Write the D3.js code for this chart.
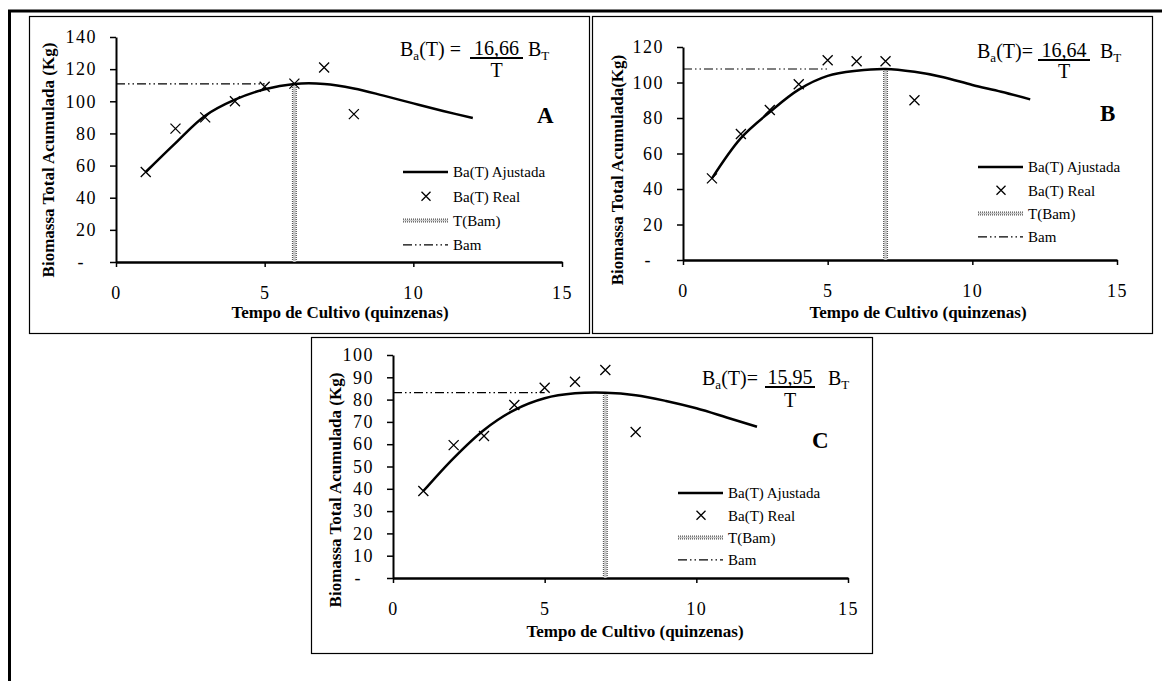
<!DOCTYPE html>
<html>
<head>
<meta charset="utf-8">
<script src="https://cdn.jsdelivr.net/npm/d3@7"></script>
<style>
  body { margin: 0; background: #fff; }
  svg { display: block; }
</style>
</head>
<body>
<div id="chart"></div>
<script>

// Data (A, B, C)

const weeks = [1, 2, 3, 4, 5, 6, 7, 8];
const fitWeeks = [1, 2, 3, 4, 5, 6, 7, 8, 9, 10, 11, 12];

const realA = [56, 83, 90, 100, 109, 111, 121, 92];
const fitA = [56, 74, 91, 101, 107.5, 110.8, 110.8, 108, 103.5, 98.7, 94, 89.6];

const realB = [46, 71, 84.5, 99, 112.5, 112, 112, 90];
const fitB = [46, 68.7, 83.4, 96, 103.7, 106.6, 107.6, 106, 103, 98.6, 94.8, 90.5];

const realC = [39, 59.6, 63.7, 77.6, 85.3, 88, 93.3, 65.5];
const fitC = [39, 53.8, 66.4, 75.3, 80.6, 82.8, 83.1, 82, 79.4, 76.1, 72, 67.8];

const tBam = [6, 7, 7];          // T(Bam) per panel
const bam = [110.8, 107.6, 83.1]; // Bam per panel
const bamRange = [0, 5];          // span of the Bam dash line

const coefs = ["16,66", "16,64", "15,95"];
const panelNames = ["A", "B", "C"];

const xTicks = [0, 5, 10, 15];
const yTicksA = [0, 20, 40, 60, 80, 100, 120, 140];
const yTicksB = [0, 20, 40, 60, 80, 100, 120];
const yTicksC = [0, 10, 20, 30, 40, 50, 60, 70, 80, 90, 100];

const legendLabels = ["Ba(T) Ajustada", "Ba(T) Real", "T(Bam)", "Bam"];
const xTitle = "Tempo de Cultivo (quinzenas)";
const yTitles = ["Biomassa Total Acumulada (Kg)", "Biomassa Total Acumulada(Kg)", "Biomassa Total Acumulada (Kg)"];

const serif = "'Liberation Serif', 'Times New Roman', serif";
const bamDash = "9,3,1.5,3,1.5,3";

const width = 1162, height = 681;

const svg = d3.select("#chart").append("svg")
    .attr("width", width)
    .attr("height", height)
    .style("font-family", serif);

svg.append("rect").attr("width", width).attr("height", height).attr("fill", "#fff");

// Outer frame (only top and left edges show)
svg.append("path")
    .attr("d", "M9.5," + height + "V11H" + width)
    .attr("fill", "none")
    .attr("stroke", "#000")
    .attr("stroke-width", 3);


// Layout of each panel (box, plot area, annotation spots)
const layouts = [
    { box: [29, 16, 589, 333], plot: [116, 562, 262, 37], yTicks: yTicksA, real: realA, fit: fitA,
      xTitle: [340, 318], yTitle: [48, 160], formula: { x: 400, y: 56, num: [470, 523], den: 77, bt: 528 },
      label: [537, 123], legend: { x: 403, y: 172, step: 24.3 } },
    { box: [592, 16, 1152, 333], plot: [683, 1117, 260, 47], yTicks: yTicksB, real: realB, fit: fitB,
      xTitle: [918, 318], yTitle: [617, 170], formula: { x: 977, y: 58, num: [1038, 1090], den: 78, bt: 1100 },
      label: [1100, 121], legend: { x: 978, y: 167, step: 23.3 } },
    { box: [311, 337, 872, 653], plot: [393, 848, 578, 355], yTicks: yTicksC, real: realC, fit: fitC,
      xTitle: [635, 637], yTitle: [335, 490], formula: { x: 702, y: 385, num: [765, 815], den: 407, bt: 828 },
      label: [812, 448], legend: { x: 678, y: 493, step: 22.3 } }
];


// One "x" marker path centred on 0,0
function crossPath(s) {
    return "M" + (-s) + "," + (-s) + "L" + s + "," + s + "M" + (-s) + "," + s + "L" + s + "," + (-s);
}

// Grey hatched vertical rule used for T(Bam)
function hatchLine(g, x1, y1, x2, y2, w) {
    g.append("line")
        .attr("x1", x1).attr("y1", y1).attr("x2", x2).attr("y2", y2)
        .attr("stroke", "#555").attr("stroke-width", w + 1)
        .attr("stroke-dasharray", "1,1");
    g.append("line")
        .attr("x1", x1).attr("y1", y1).attr("x2", x2).attr("y2", y2)
        .attr("stroke", "#c8c8c8").attr("stroke-width", w - 1.5);
}


function drawPanel(i) {
    const L = layouts[i];
    const g = svg.append("g");

    g.append("rect")
        .attr("x", L.box[0] + 0.5).attr("y", L.box[1] + 0.5)
        .attr("width", L.box[2] - L.box[0]).attr("height", L.box[3] - L.box[1])
        .attr("fill", "none").attr("stroke", "#000").attr("stroke-width", 1.2);

    const yMax = L.yTicks[L.yTicks.length - 1];
    const x = d3.scaleLinear().domain([0, 15]).range([L.plot[0], L.plot[1]]);
    const y = d3.scaleLinear().domain([0, yMax]).range([L.plot[2], L.plot[3]]);

    // Axes
    const xAxis = d3.axisBottom(x).tickValues(xTicks).tickSize(5).tickSizeOuter(0).tickPadding(19);
    g.append("g")
        .attr("transform", "translate(0," + y(0) + ")")
        .call(xAxis)
        .attr("font-family", serif).attr("font-size", 18)
        .call(a => a.select(".domain").attr("stroke-width", 2.5))
        .call(a => a.selectAll("line").attr("stroke-width", 1.5))
        .call(a => a.selectAll("text").attr("letter-spacing", 1.5));

    const yAxis = d3.axisLeft(y).tickValues(L.yTicks).tickSize(6).tickSizeOuter(0).tickPadding(13)
        .tickFormat(d => d === 0 ? "-" : d);
    g.append("g")
        .attr("transform", "translate(" + x(0) + ",0)")
        .call(yAxis)
        .attr("font-family", serif).attr("font-size", 18)
        .call(a => a.select(".domain").attr("stroke-width", 2))
        .call(a => a.selectAll("line").attr("stroke-width", 1.5))
        .call(a => a.selectAll("text").attr("letter-spacing", 1.5))
        .call(a => a.selectAll(".tick").filter(d => d === 0).select("text").attr("dx", -12));

    // Axis titles
    g.append("text")
        .attr("x", L.xTitle[0]).attr("y", L.xTitle[1])
        .attr("text-anchor", "middle")
        .attr("font-weight", "bold").attr("font-size", 17)
        .text(xTitle);

    g.append("text")
        .attr("transform", "translate(" + L.yTitle[0] + "," + L.yTitle[1] + ") rotate(-90)")
        .attr("text-anchor", "middle").attr("dy", "0.35em")
        .attr("font-weight", "bold").attr("font-size", 17)
        .text(yTitles[i]);

    // Bam (horizontal) and T(Bam) (vertical)
    g.append("line")
        .attr("x1", x(bamRange[0])).attr("x2", x(bamRange[1]))
        .attr("y1", y(bam[i])).attr("y2", y(bam[i]))
        .attr("stroke", "#000").attr("stroke-width", 1.2)
        .attr("stroke-dasharray", bamDash);

    hatchLine(g, x(tBam[i]), y(0), x(tBam[i]), y(bam[i]), 4);

    // Fitted curve
    const line = d3.line()
        .x((d, j) => x(fitWeeks[j]))
        .y(d => y(d))
        .curve(d3.curveCatmullRom.alpha(0.5));

    g.append("path")
        .datum(L.fit)
        .attr("d", line)
        .attr("fill", "none")
        .attr("stroke", "#000")
        .attr("stroke-width", 2.5);

    // Observed points
    g.selectAll(".pt")
        .data(L.real)
        .enter().append("path")
        .attr("class", "pt")
        .attr("transform", (d, j) => "translate(" + x(weeks[j]) + "," + y(d) + ")")
        .attr("d", crossPath(5))
        .attr("stroke", "#000").attr("stroke-width", 1.3);

    // Formula  Ba(T) = coef/T  BT
    const F = L.formula;
    const ft = g.append("text").attr("x", F.x).attr("y", F.y).attr("font-size", 20);
    ft.append("tspan").text("B");
    ft.append("tspan").attr("font-size", 13).attr("dy", 4).text("a");
    ft.append("tspan").attr("dy", -4).text(i === 0 ? "(T) =" : "(T)=");

    g.append("text")
        .attr("x", (F.num[0] + F.num[1]) / 2).attr("y", F.y - 1)
        .attr("text-anchor", "middle").attr("font-size", 20)
        .text(coefs[i]);
    g.append("line")
        .attr("x1", F.num[0]).attr("x2", F.num[1])
        .attr("y1", F.y + 2).attr("y2", F.y + 2)
        .attr("stroke", "#000").attr("stroke-width", 1.8);
    g.append("text")
        .attr("x", (F.num[0] + F.num[1]) / 2).attr("y", F.den)
        .attr("text-anchor", "middle").attr("font-size", 20)
        .text("T");

    const bt = g.append("text").attr("x", F.bt).attr("y", F.y).attr("font-size", 20);
    bt.append("tspan").text("B");
    bt.append("tspan").attr("font-size", 13).attr("dy", 4).text("T");

    // Panel letter
    g.append("text")
        .attr("x", L.label[0]).attr("y", L.label[1])
        .attr("font-weight", "bold").attr("font-size", 23)
        .text(panelNames[i]);

    // Legend
    const lg = L.legend;
    const rows = g.selectAll(".leg")
        .data(legendLabels)
        .enter().append("g")
        .attr("class", "leg")
        .attr("transform", (d, j) => "translate(" + lg.x + "," + (lg.y + j * lg.step) + ")");

    rows.append("text")
        .attr("x", 50).attr("dy", "0.35em")
        .attr("font-size", 15)
        .text(d => d);

    rows.filter((d, j) => j === 0).append("line")
        .attr("x1", 0).attr("x2", 45)
        .attr("stroke", "#000").attr("stroke-width", 2.5);

    rows.filter((d, j) => j === 1).append("path")
        .attr("transform", "translate(23,0)")
        .attr("d", crossPath(4.5))
        .attr("stroke", "#000").attr("stroke-width", 1.3);

    rows.filter((d, j) => j === 2).each(function() {
        hatchLine(d3.select(this), 0, 0, 45, 0, 3);
    });

    rows.filter((d, j) => j === 3).append("line")
        .attr("x1", 0).attr("x2", 45)
        .attr("stroke", "#000").attr("stroke-width", 1.2)
        .attr("stroke-dasharray", bamDash);
}

panelNames.forEach((d, i) => drawPanel(i));

</script>
</body>
</html>
